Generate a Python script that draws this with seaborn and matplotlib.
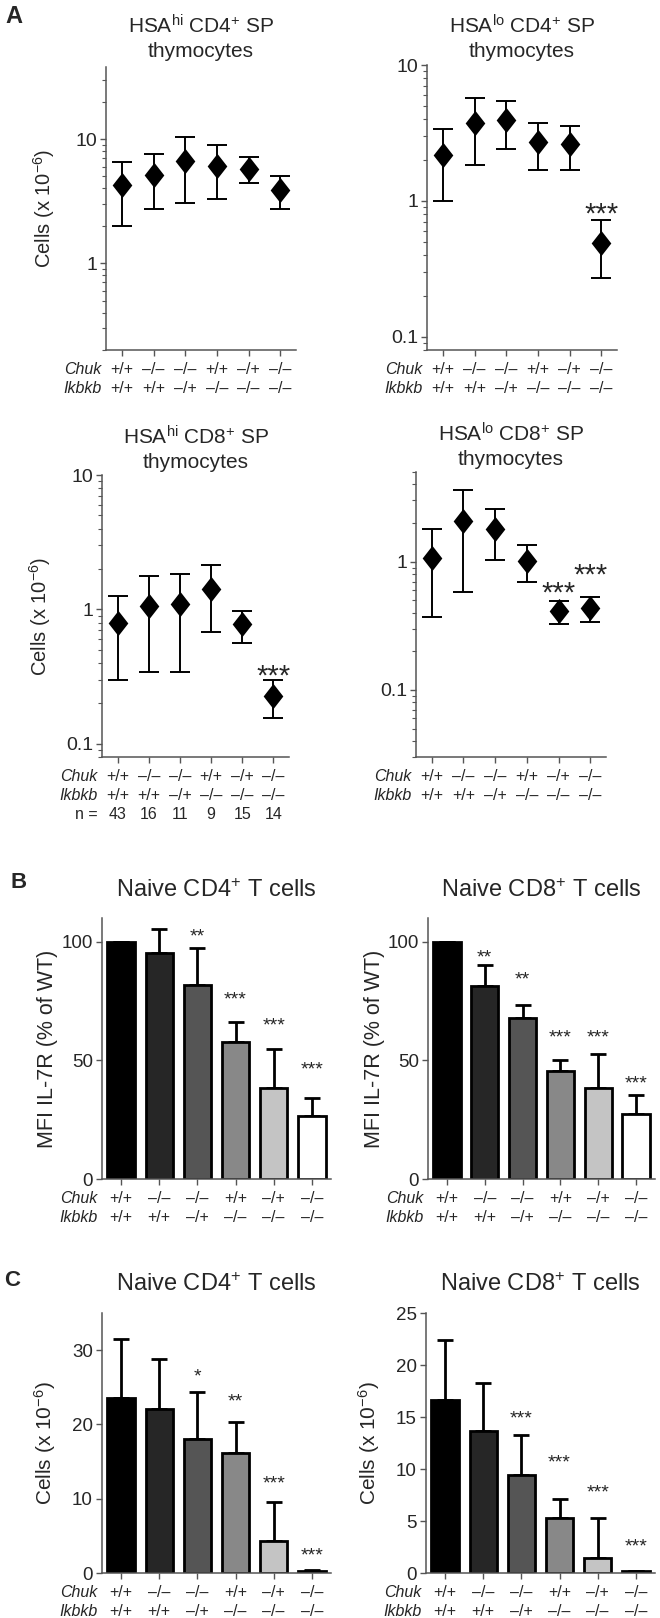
import matplotlib
matplotlib.use("Agg")
import matplotlib.pyplot as plt
import seaborn as sns
import numpy as np
from matplotlib.path import Path
from matplotlib.ticker import LogLocator, FuncFormatter, NullFormatter

sns.set_style("ticks")
plt.rcParams['font.family'] = ['Liberation Sans', 'DejaVu Sans']
plt.rcParams['mathtext.fontset'] = 'custom'
plt.rcParams['mathtext.rm'] = 'Liberation Sans'
plt.rcParams['mathtext.it'] = 'Liberation Sans:italic'

# genotypes
chuk = ["+/+", "–/–", "–/–", "+/+", "–/+", "–/–"]
ikbkb = ["+/+", "+/+", "–/+", "–/–", "–/–", "–/–"]
n_mice = [43, 16, 11, 9, 15, 14]

# panel A (log scale, mean with range)
hsahi_cd4_mean = [4.25, 5.13, 6.68, 6.1, 5.73, 3.88]
hsahi_cd4_low = [1.99, 2.71, 3.08, 3.27, 4.4, 2.74]
hsahi_cd4_high = [6.56, 7.57, 10.4, 8.9, 7.1, 5.06]

hsalo_cd4_mean = [2.19, 3.77, 3.92, 2.72, 2.61, 0.494]
hsalo_cd4_low = [1.0, 1.85, 2.41, 1.68, 1.69, 0.27]
hsalo_cd4_high = [3.37, 5.72, 5.41, 3.74, 3.54, 0.725]

hsahi_cd8_mean = [0.787, 1.06, 1.10, 1.42, 0.774, 0.228]
hsahi_cd8_low = [0.30, 0.343, 0.343, 0.679, 0.56, 0.157]
hsahi_cd8_high = [1.27, 1.76, 1.85, 2.15, 0.98, 0.30]

hsalo_cd8_mean = [1.07, 2.09, 1.80, 1.02, 0.413, 0.433]
hsalo_cd8_low = [0.373, 0.583, 1.03, 0.70, 0.325, 0.339]
hsalo_cd8_high = [1.79, 3.62, 2.59, 1.34, 0.494, 0.531]

# panel B (MFI IL-7R, % of WT)
il7r_cd4_mean = [100, 95.1, 81.9, 57.7, 38.4, 26.6]
il7r_cd4_sd = [0, 10.2, 15.3, 8.4, 16.2, 7.7]
il7r_cd8_mean = [100, 81.4, 67.9, 45.4, 38.4, 27.6]
il7r_cd8_sd = [0, 8.8, 5.6, 4.9, 14.2, 8.0]

# panel C (cells x 10^-6)
naive_cd4_mean = [23.5, 22.1, 18.0, 16.1, 4.3, 0.3]
naive_cd4_sd = [8.0, 6.7, 6.4, 4.2, 5.2, 0.1]
naive_cd8_mean = [16.6, 13.7, 9.4, 5.3, 1.45, 0.15]
naive_cd8_sd = [5.8, 4.6, 3.9, 1.85, 3.8, 0.05]

# significance
stars_a_hicd4 = ["", "", "", "", "", ""]
stars_a_locd4 = ["", "", "", "", "", "***"]
stars_a_hicd8 = ["", "", "", "", "", "***"]
stars_a_locd8 = ["", "", "", "", "***", "***"]
stars_b_cd4 = ["", "", "**", "***", "***", "***"]
stars_b_cd8 = ["", "**", "**", "***", "***", "***"]
stars_c_cd4 = ["", "", "*", "**", "***", "***"]
stars_c_cd8 = ["", "", "***", "***", "***", "***"]
star_y_a_locd4 = [0, 0, 0, 0, 0, 0.90]
star_y_a_hicd8 = [0, 0, 0, 0, 0, 0.36]
star_y_a_locd8 = [0, 0, 0, 0, 0.64, 0.88]
star_y_b_cd4 = [0, 0, 103.9, 77.3, 66.1, 47.6]
star_y_b_cd8 = [0, 94.8, 85.7, 61.2, 61.2, 41.6]
star_y_c_cd4 = [0, 0, 27.0, 23.6, 12.5, 2.9]
star_y_c_cd8 = [0, 0, 15.2, 11.0, 8.05, 2.9]

bar_grays = ["#000000", "#262626", "#555555", "#888888", "#c4c4c4", "#ffffff"]

W, H = 660, 1618
fig = plt.figure(figsize=(W / 100, H / 100), dpi=100)

def add_ax(x1, y1, x2, y2):
    return fig.add_axes([x1 / W, 1 - y2 / H, (x2 - x1) / W, (y2 - y1) / H])

def ftext(x, y, s, **kw):
    fig.text(x / W, 1 - y / H, s, **kw)

cats = [c + "\n" + i for c, i in zip(chuk, ikbkb)]
diamond = Path([(0, 1), (0.78, 0), (0, -1), (-0.78, 0), (0, 1)],
               [Path.MOVETO, Path.LINETO, Path.LINETO, Path.LINETO, Path.CLOSEPOLY])
LS = 1.36

def style_axes(ax, labels, n_row=False):
    sns.despine(ax=ax)
    for s in ["left", "bottom"]:
        ax.spines[s].set_color("#555555")
        ax.spines[s].set_linewidth(1.1)
    ax.set_xlim(-0.5, 5.5)
    ax.set_xticks(range(6))
    ax.set_xticklabels(labels, fontsize=11.5, linespacing=LS)
    ax.tick_params(axis="x", length=4.5, width=1, color="#555555", pad=4)
    ax.tick_params(axis="y", which="major", length=4.5, width=1, color="#555555", pad=2)
    ax.tick_params(axis="y", which="minor", length=3, width=0.8, color="#555555")
    ax.set_xlabel("")
    ax.annotate("Chuk\nIkbkb", xy=(0, 0), xycoords="axes fraction", xytext=(-3, -8.5),
                textcoords="offset points", ha="right", va="top",
                fontsize=11.5, linespacing=LS, style="italic")
    if n_row:
        ax.annotate("n =", xy=(0, 0), xycoords="axes fraction", xytext=(-3, -36.2),
                    textcoords="offset points", ha="right", va="top", fontsize=11.5)

def log_panel(box, mean, low, high, ylim, stars, star_y, labels, ylabel, n_row=False):
    ax = add_ax(*box)
    ax.set_yscale("log")
    ax.errorbar(range(6), mean, yerr=[np.array(mean) - np.array(low), np.array(high) - np.array(mean)],
                fmt="none", ecolor="black", elinewidth=1.4, capsize=7.5, capthick=1.4, zorder=2)
    sns.scatterplot(x=cats, y=mean, marker=diamond, s=330, color="black",
                    edgecolor="black", linewidth=0, ax=ax, zorder=3)
    ax.set_ylim(*ylim)
    ax.yaxis.set_major_locator(LogLocator(base=10))
    ax.yaxis.set_minor_locator(LogLocator(base=10, subs=np.arange(2, 10)))
    ax.yaxis.set_major_formatter(FuncFormatter(lambda v, p: "%g" % v))
    ax.yaxis.set_minor_formatter(NullFormatter())
    ax.tick_params(axis="y", labelsize=14)
    style_axes(ax, labels, n_row)
    for i, s in enumerate(stars):
        if s:
            ax.annotate(s, (i, star_y[i]), xytext=(0, -5), textcoords="offset points",
                        ha="center", va="center", fontsize=21)
    if ylabel:
        ax.set_ylabel(ylabel, fontsize=14.5)
        ax.yaxis.set_label_coords(-0.26, 0.5)
    else:
        ax.set_ylabel("")
    return ax

def bar_panel(box, mean, sd, ylim, yticks, stars, star_y, ylabel, ylabel_size):
    ax = add_ax(*box)
    ax.errorbar(range(6), mean, yerr=[np.zeros(6), sd], fmt="none", ecolor="black",
                elinewidth=2, capsize=5.5, capthick=2, zorder=0.5)
    sns.barplot(x=cats, y=mean, hue=cats, palette=bar_grays, legend=False, saturation=1,
                edgecolor="black", linewidth=2, width=0.72, errorbar=None, ax=ax, zorder=1)
    ax.set_ylim(*ylim)
    ax.set_yticks(yticks)
    ax.tick_params(axis="y", labelsize=13.5)
    style_axes(ax, cats)
    for i, s in enumerate(stars):
        if s:
            ax.annotate(s, (i, star_y[i]), xytext=(0, -3), textcoords="offset points",
                        ha="center", va="center", fontsize=14)
    ax.set_ylabel(ylabel, fontsize=ylabel_size)
    ax.yaxis.set_label_coords(-0.19, 0.5)
    return ax

cells_label = "Cells (x 10$^{-6}$)"
cats_n = [c + "\n" + str(n) for c, n in zip(cats, n_mice)]

log_panel((106, 67, 296, 350), hsahi_cd4_mean, hsahi_cd4_low, hsahi_cd4_high, (0.2, 38),
          stars_a_hicd4, [0] * 6, cats, cells_label)
log_panel((427, 65, 617, 350), hsalo_cd4_mean, hsalo_cd4_low, hsalo_cd4_high, (0.08, 10),
          stars_a_locd4, star_y_a_locd4, cats, None)
log_panel((102, 475, 289, 757), hsahi_cd8_mean, hsahi_cd8_low, hsahi_cd8_high, (0.08, 10),
          stars_a_hicd8, star_y_a_hicd8, cats_n, cells_label, n_row=True)
log_panel((416, 472, 606, 757), hsalo_cd8_mean, hsalo_cd8_low, hsalo_cd8_high, (0.03, 5),
          stars_a_locd8, star_y_a_locd8, cats, None)

mfi_label = "MFI IL-7R (% of WT)"
bar_panel((102, 918, 331, 1179), il7r_cd4_mean, il7r_cd4_sd, (0, 110), [0, 50, 100],
          stars_b_cd4, star_y_b_cd4, mfi_label, 15.5)
bar_panel((428, 918, 655, 1179), il7r_cd8_mean, il7r_cd8_sd, (0, 110), [0, 50, 100],
          stars_b_cd8, star_y_b_cd8, mfi_label, 15.5)
bar_panel((102, 1313, 331, 1573), naive_cd4_mean, naive_cd4_sd, (0, 35), [0, 10, 20, 30],
          stars_c_cd4, star_y_c_cd4, cells_label, 15)
bar_panel((426, 1313, 655, 1573), naive_cd8_mean, naive_cd8_sd, (0, 25), [0, 5, 10, 15, 20, 25],
          stars_c_cd8, star_y_c_cd8, cells_label, 15)

# titles
ftext(201, 33, "HSA$^{\\rm hi}$ CD4$^{+}$ SP", ha="center", va="baseline", fontsize=15)
ftext(201, 57, "thymocytes", ha="center", va="baseline", fontsize=15)
ftext(522, 33, "HSA$^{\\rm lo}$ CD4$^{+}$ SP", ha="center", va="baseline", fontsize=15)
ftext(522, 57, "thymocytes", ha="center", va="baseline", fontsize=15)
ftext(196, 445, "HSA$^{\\rm hi}$ CD8$^{+}$ SP", ha="center", va="baseline", fontsize=15)
ftext(196, 468, "thymocytes", ha="center", va="baseline", fontsize=15)
ftext(511, 442, "HSA$^{\\rm lo}$ CD8$^{+}$ SP", ha="center", va="baseline", fontsize=15)
ftext(511, 465, "thymocytes", ha="center", va="baseline", fontsize=15)
ftext(216, 897, "Naive CD4$^{+}$ T cells", ha="center", va="baseline", fontsize=17)
ftext(541, 897, "Naive CD8$^{+}$ T cells", ha="center", va="baseline", fontsize=17)
ftext(216, 1291, "Naive CD4$^{+}$ T cells", ha="center", va="baseline", fontsize=17)
ftext(540, 1291, "Naive CD8$^{+}$ T cells", ha="center", va="baseline", fontsize=17)

# panel letters
ftext(5, 23, "A", ha="left", va="baseline", fontsize=17, weight="bold")
ftext(11, 888, "B", ha="left", va="baseline", fontsize=16, weight="bold")
ftext(4, 1286, "C", ha="left", va="baseline", fontsize=16, weight="bold")

fig.savefig("out.png", dpi=100)
